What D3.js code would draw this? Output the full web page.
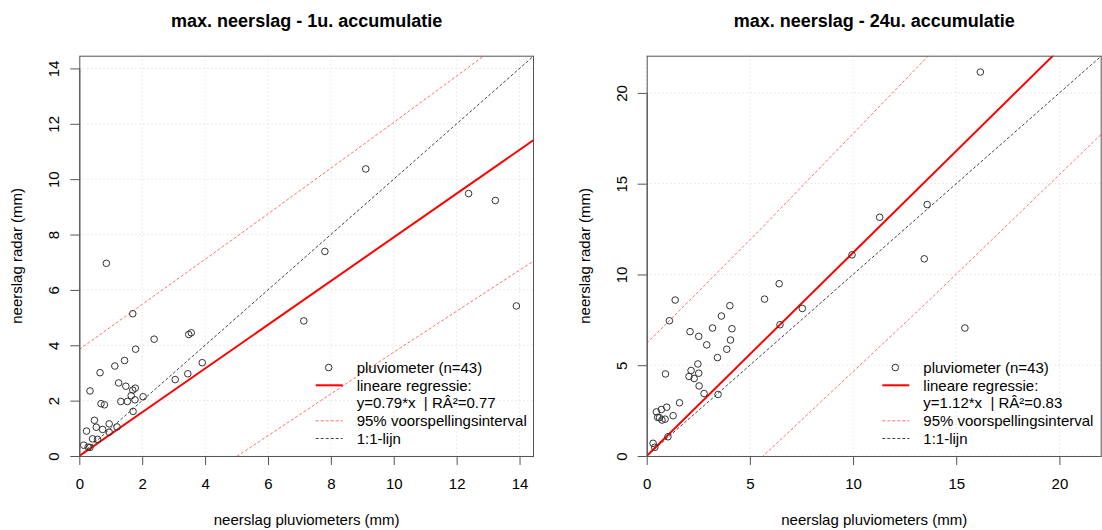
<!DOCTYPE html>
<html><head><meta charset="utf-8">
<script src="https://cdn.jsdelivr.net/npm/d3@7"></script>
<style>
body{margin:0;background:#fff}
svg{display:block;font-family:"Liberation Sans",Arial,sans-serif}
</style>
</head><body>
<svg id="chart" width="1102" height="530"></svg>
<script>
// ---------- data ----------
const leftTitle = "max. neerslag - 1u. accumulatie";
const rightTitle = "max. neerslag - 24u. accumulatie";
const xLabel = "neerslag pluviometers (mm)";
const yLabel = "neerslag radar (mm)";

const leftX = [1.70,2.38,3.48,3.56,1.79,1.44,1.13,3.91,0.66,3.05,
               3.45,1.25,1.48,1.70,1.78,0.34,1.65,2.03,1.77,1.32,
               1.53,0.69,0.80,1.71,0.48,0.54,0.95,1.20,0.74,0.95,
               0.23,0.42,0.58,0.14,0.28,0.34,
               0.86,9.11,12.38,13.23,7.81,7.14,13.90];
const leftY = [5.14,4.22,4.39,4.45,3.86,3.45,3.25,3.37,3.01,2.76,
               2.97,2.64,2.52,2.38,2.45,2.35,2.18,2.14,2.03,1.97,
               1.97,1.89,1.85,1.61,1.29,1.04,1.16,1.05,0.96,0.86,
               0.90,0.62,0.60,0.39,0.32,0.31,
               6.96,10.37,9.48,9.23,7.39,4.88,5.42];

const rightX = [6.42,5.71,7.54,1.38,4.03,3.62,1.10,6.46,3.19,4.13,
                2.10,2.52,4.06,2.91,3.88,3.43,2.48,2.15,2.52,0.91,
                2.05,2.30,2.54,2.78,3.46,1.59,0.97,0.71,0.47,1.28,
                0.53,0.62,0.89,0.74,1.03,0.31,0.39,
                16.17,13.59,11.29,9.95,13.45,15.42];
const rightY = [9.49,8.64,8.13,8.59,8.28,7.71,7.45,7.23,7.05,7.01,
                6.85,6.59,6.39,6.12,5.88,5.42,5.07,4.71,4.56,4.52,
                4.38,4.27,3.86,3.44,3.39,2.93,2.69,2.56,2.43,2.22,
                2.13,2.11,2.03,1.98,1.06,0.70,0.48,
                21.15,13.85,13.15,11.08,10.86,7.05];

const leftMax = 14.46, rightMax = 22.05;
const leftTicks = [0,2,4,6,8,10,12,14];
const rightTicks = [0,5,10,15,20];
const leftSlope = 0.79, rightSlope = 1.12;
const leftPiX = [0, 5, 10, 14.46];
const leftPiHalf = [3.85, 3.97, 4.15, 4.37];
const rightPiX = [0, 5.6, 13.6, 22.05];
const rightPiHalf = [6.2, 6.32, 6.75, 6.95];
const leftLegend = ["pluviometer (n=43)", "lineare regressie:", "y=0.79*x  | RÂ²=0.77", "95% voorspellingsinterval", "1:1-lijn"];
const rightLegend = ["pluviometer (n=43)", "lineare regressie:", "y=1.12*x  | RÂ²=0.83", "95% voorspellingsinterval", "1:1-lijn"];

// ---------- drawing ----------
const svg = d3.select("#chart");
const FONT = 15;
const PI_COLOR = "#ff6f6f";

function panel(o) {
  const g = svg.append("g");
  const x = d3.scaleLinear().domain([0, o.max]).range([o.left, o.right]);
  const y = d3.scaleLinear().domain([0, o.max]).range([o.bottom, o.top]);
  const clipId = "clip" + o.id;
  svg.append("clipPath").attr("id", clipId).append("rect")
    .attr("x", o.left).attr("y", o.top)
    .attr("width", o.right - o.left).attr("height", o.bottom - o.top);

  // grid
  const grid = g.append("g").attr("stroke", "#d8d8d8").attr("stroke-width", 1).attr("stroke-dasharray", "1,3");
  o.ticks.forEach(t => {
    grid.append("line").attr("x1", x(t)).attr("x2", x(t)).attr("y1", o.top).attr("y2", o.bottom);
    grid.append("line").attr("x1", o.left).attr("x2", o.right).attr("y1", y(t)).attr("y2", y(t));
  });

  const plot = g.append("g").attr("clip-path", `url(#${clipId})`);
  const line = d3.line().x(d => x(d[0])).y(d => y(d[1]));

  // 1:1 line
  plot.append("path").datum([[0,0],[o.max,o.max]]).attr("d", line)
    .attr("fill", "none").attr("stroke", "#444").attr("stroke-width", 1).attr("stroke-dasharray", "3,2");
  // prediction interval
  const up = o.piX.map((v,i) => [v, o.slope*v + o.piHalf[i]]);
  const lo = o.piX.map((v,i) => [v, o.slope*v - o.piHalf[i]]);
  [up, lo].forEach(d => plot.append("path").datum(d).attr("d", line)
    .attr("fill", "none").attr("stroke", PI_COLOR).attr("stroke-width", 1).attr("stroke-dasharray", "3,2"));
  // regression
  plot.append("path").datum([[0,0],[o.max, o.slope*o.max]]).attr("d", line)
    .attr("fill", "none").attr("stroke", "#ff0000").attr("stroke-width", 2);

  // points
  g.append("g").selectAll("circle").data(o.xs.map((v,i)=>[v,o.ys[i]])).join("circle")
    .attr("cx", d => x(d[0])).attr("cy", d => y(d[1])).attr("r", 3.3)
    .attr("fill", "none").attr("stroke", "#333").attr("stroke-width", 1);

  // box
  g.append("rect").attr("x", o.left + 0.5).attr("y", o.top + 0.5)
    .attr("width", o.right - o.left - 1).attr("height", o.bottom - o.top)
    .attr("fill", "none").attr("stroke", "#555").attr("stroke-width", 1);

  // x axis
  const xa = g.append("g").attr("transform", `translate(0,${o.bottom})`)
    .call(d3.axisBottom(x).tickValues(o.ticks).tickSize(9).tickPadding(0).tickFormat(d3.format("d")));
  xa.select(".domain").attr("stroke", "#555").attr("d", `M${x(o.ticks[0])},0.5H${x(o.ticks[o.ticks.length-1])}`);
  xa.selectAll(".tick line").attr("stroke", "#555");
  xa.selectAll(".tick text").attr("font-size", FONT).attr("fill", "#000")
    .attr("font-family", "Liberation Sans, Arial, sans-serif").attr("dy", null).attr("y", 33);

  // y axis
  const ya = g.append("g").attr("transform", `translate(${o.left},0)`)
    .call(d3.axisLeft(y).tickValues(o.ticks).tickSize(9).tickFormat(d3.format("d")));
  ya.select(".domain").attr("stroke", "#555").attr("d", `M0.5,${y(o.ticks[0])}V${y(o.ticks[o.ticks.length-1])}`);
  ya.selectAll(".tick line").attr("stroke", "#555");
  ya.selectAll(".tick text").attr("font-size", FONT).attr("fill", "#000")
    .attr("font-family", "Liberation Sans, Arial, sans-serif")
    .attr("x", null).attr("dy", null).attr("text-anchor", "middle")
    .attr("transform", "translate(-20,0) rotate(-90)");

  // titles
  svg.append("text").attr("x", (o.left + o.right)/2).attr("y", 26.5).attr("text-anchor", "middle")
    .attr("font-size", 18).attr("font-weight", "bold").text(o.title);
  svg.append("text").attr("x", (o.left + o.right)/2).attr("y", 525).attr("text-anchor", "middle")
    .attr("font-size", FONT).text(xLabel);
  svg.append("text").attr("transform", `translate(${o.left - 57},${(o.top + o.bottom)/2}) rotate(-90)`)
    .attr("text-anchor", "middle").attr("font-size", FONT).text(yLabel);

  // legend
  const rows = [367.5, 385.3, 403, 420.8, 438.5];
  const lg = svg.append("g");
  const lx0 = o.legX - 41, lx1 = o.legX - 14;
  lg.append("circle").attr("cx", o.legX - 28).attr("cy", rows[0]).attr("r", 3.3)
    .attr("fill", "none").attr("stroke", "#333");
  lg.append("line").attr("x1", lx0).attr("x2", lx1).attr("y1", rows[1]).attr("y2", rows[1])
    .attr("stroke", "#ff0000").attr("stroke-width", 2);
  lg.append("line").attr("x1", lx0).attr("x2", lx1).attr("y1", rows[3]).attr("y2", rows[3])
    .attr("stroke", PI_COLOR).attr("stroke-dasharray", "3,2");
  lg.append("line").attr("x1", lx0).attr("x2", lx1).attr("y1", rows[4]).attr("y2", rows[4])
    .attr("stroke", "#444").attr("stroke-dasharray", "3,2");
  o.legend.forEach((t, i) => lg.append("text").attr("x", o.legX).attr("y", rows[i] + 5.3)
    .attr("font-size", FONT).style("white-space", "pre").text(t));
}

panel({id: "L", left: 79.3, right: 534, top: 55.7, bottom: 456, max: leftMax, ticks: leftTicks,
  xs: leftX, ys: leftY, slope: leftSlope, piX: leftPiX, piHalf: leftPiHalf,
  title: leftTitle, legend: leftLegend, legX: 356.7});
panel({id: "R", left: 646.7, right: 1101.7, top: 55.7, bottom: 456, max: rightMax, ticks: rightTicks,
  xs: rightX, ys: rightY, slope: rightSlope, piX: rightPiX, piHalf: rightPiHalf,
  title: rightTitle, legend: rightLegend, legX: 923.3});
</script>
</body></html>
